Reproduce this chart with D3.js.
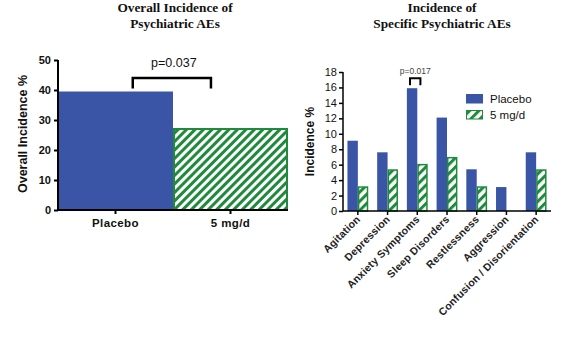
<!DOCTYPE html>
<html><head><meta charset="utf-8">
<script src="https://cdn.jsdelivr.net/npm/d3@7"></script>
<style>body{margin:0;background:#fff;} svg{display:block;}</style>
</head><body>
<svg id="c" width="568" height="337"></svg>
<script>
// ---- data ----
const overallGroups = ["Placebo", "5 mg/d"];
const overallValues = [39.5, 27.0];
const overallTicks = [0, 10, 20, 30, 40, 50];

const aeCategories = ["Agitation", "Depression", "Anxiety Symptoms", "Sleep Disorders", "Restlessness", "Aggression", "Confusion / Disorientation"];
const placeboValues = [9.1, 7.6, 15.9, 12.1, 5.4, 3.1, 7.6];
const doseValues = [3.2, 5.4, 6.1, 7.0, 3.2, 0, 5.4];
const aeTicks = [0, 2, 4, 6, 8, 10, 12, 14, 16, 18];
const seriesNames = ["Placebo", "5 mg/d"];

const BLUE = "#3a55a6", GREEN = "#1f8a3c";
const svg = d3.select("#c");
const defs = svg.append("defs");
function hatch(id, size, sw) {
  const p = defs.append("pattern").attr("id", id).attr("patternUnits", "userSpaceOnUse")
    .attr("width", size).attr("height", size).attr("patternTransform", "rotate(45)");
  p.append("rect").attr("width", size).attr("height", size).attr("fill", "#fff");
  p.append("rect").attr("width", sw).attr("height", size).attr("fill", GREEN);
}
hatch("h1", 6, 3);
hatch("h2", 6.5, 3);

const serif = "'Liberation Serif','Times New Roman',serif";
const sans = "'Liberation Sans',Arial,sans-serif";

// ---- left chart ----
{
  const x0 = 58, x1 = 288, yb = 210, yt = 60;
  const x = d3.scaleBand().domain(overallGroups).range([x0, x1]).padding(0);
  const y = d3.scaleLinear().domain([0, 50]).range([yb, yt]);
  const g = svg.append("g");
  g.selectAll("rect.bar").data(overallValues).join("rect")
    .attr("x", (d, i) => x(overallGroups[i]) + (i ? 1 : 0))
    .attr("y", d => y(d)).attr("width", (d, i) => x.bandwidth() - (i ? 2 : 0))
    .attr("height", d => yb - y(d))
    .attr("fill", (d, i) => i ? "url(#h1)" : BLUE)
    .attr("stroke", (d, i) => i ? GREEN : "none").attr("stroke-width", 2);
  const ya = g.append("g").attr("transform", `translate(${x0},0)`)
    .call(d3.axisLeft(y).tickValues(overallTicks).tickSize(4).tickPadding(3));
  const xa = g.append("g").attr("transform", `translate(0,${yb})`)
    .call(d3.axisBottom(x).tickSize(4).tickPadding(5));
  [ya, xa].forEach(a => {
    a.select(".domain").attr("stroke", "#000").attr("stroke-width", 2);
    a.selectAll(".tick line").attr("stroke", "#000").attr("stroke-width", 2);
    a.selectAll("text").attr("font-family", sans).attr("font-weight", "bold").attr("font-size", 11).attr("fill", "#111");
  });
  xa.selectAll("text").attr("font-size", 11.5).attr("letter-spacing", 0.4);
  ya.select(".domain").attr("d", `M0,${yb}V${yt}`);
  xa.select(".domain").attr("d", `M${x0},0H${x1}`);
  g.append("text").attr("transform", `translate(27,${(yb + yt) / 2 - 1}) rotate(-90)`)
    .attr("text-anchor", "middle").attr("font-family", sans).attr("font-weight", "bold")
    .attr("font-size", 12.5).attr("fill", "#111").text("Overall Incidence %");
  // bracket
  const bxa = x("Placebo") + x.bandwidth() * 0.65, bxb = x("5 mg/d") + x.bandwidth() * 0.33;
  g.append("path").attr("d", `M${bxa},${y(39.5) - 3}V${y(44)}H${bxb}V${y(39.5) - 3}`)
    .attr("fill", "none").attr("stroke", "#000").attr("stroke-width", 2.5);
  g.append("text").attr("x", (bxa + bxb) / 2 + 2).attr("y", 67).attr("text-anchor", "middle")
    .attr("font-family", sans).attr("font-size", 12.5).attr("fill", "#111").text("p=0.037");
  g.append("text").attr("x", 175).attr("y", 12).attr("text-anchor", "middle").attr("font-family", serif)
    .attr("font-weight", "bold").attr("font-size", 13.3).attr("fill", "#111").text("Overall Incidence of");
  g.append("text").attr("x", 175).attr("y", 28).attr("text-anchor", "middle").attr("font-family", serif)
    .attr("font-weight", "bold").attr("font-size", 13.3).attr("fill", "#111").text("Psychiatric AEs");
}

// ---- right chart ----
{
  const x0 = 343, x1 = 551, yb = 211, yt = 72;
  const x = d3.scaleBand().domain(aeCategories).range([x0, x1]).paddingInner(0.3).paddingOuter(0.15);
  const xs = d3.scaleBand().domain(seriesNames).range([0, x.bandwidth()]);
  const y = d3.scaleLinear().domain([0, 18]).range([yb, yt]);
  const g = svg.append("g");
  const grp = g.selectAll("g.grp").data(aeCategories).join("g").attr("transform", d => `translate(${x(d)},0)`);
  grp.append("rect").attr("x", xs("Placebo")).attr("width", xs.bandwidth())
    .attr("y", (d, i) => y(placeboValues[i])).attr("height", (d, i) => yb - y(placeboValues[i])).attr("fill", BLUE);
  grp.filter((d, i) => doseValues[i] > 0).append("rect").attr("x", xs("5 mg/d") + 0.75).attr("width", xs.bandwidth() - 1.5)
    .attr("y", d => y(doseValues[aeCategories.indexOf(d)]) + 0.75)
    .attr("height", d => yb - y(doseValues[aeCategories.indexOf(d)]) - 0.75)
    .attr("fill", "url(#h2)").attr("stroke", GREEN).attr("stroke-width", 1.5);
  const ya = g.append("g").attr("transform", `translate(${x0},0)`)
    .call(d3.axisLeft(y).tickValues(aeTicks).tickSize(4).tickPadding(2));
  const xa = g.append("g").attr("transform", `translate(0,${yb})`)
    .call(d3.axisBottom(x).tickSize(4).tickFormat(""));
  [ya, xa].forEach(a => {
    a.select(".domain").attr("stroke", "#000").attr("stroke-width", 1.5);
    a.selectAll(".tick line").attr("stroke", "#000").attr("stroke-width", 1.5);
  });
  ya.select(".domain").attr("d", `M0,${yb}V${yt}`);
  xa.select(".domain").attr("d", `M${x0},0H${x1}`);
  ya.selectAll("text").attr("font-family", sans).attr("font-size", 11).attr("fill", "#111");
  xa.selectAll(".tick").append("text")
    .attr("transform", "translate(3,9) rotate(-45)").attr("text-anchor", "end")
    .attr("font-family", sans).attr("font-weight", "bold").attr("font-size", 10.5).attr("fill", "#222")
    .attr("letter-spacing", 0.2)
    .text(d => d);
  g.append("text").attr("transform", `translate(314,${(yb + yt) / 2}) rotate(-90)`)
    .attr("text-anchor", "middle").attr("font-family", sans).attr("font-weight", "bold")
    .attr("font-size", 12).attr("fill", "#111").text("Incidence %");
  // bracket
  const c = x("Anxiety Symptoms");
  const ba = c + xs("Placebo") + xs.bandwidth() * 0.3, bb = c + xs("5 mg/d") + xs.bandwidth() * 0.3;
  g.append("path").attr("d", `M${ba},${y(15.9) - 3}V${y(17.2)}H${bb}V${y(15.9) - 3}`)
    .attr("fill", "none").attr("stroke", "#000").attr("stroke-width", 2);
  g.append("text").attr("x", (ba + bb) / 2).attr("y", 74).attr("text-anchor", "middle")
    .attr("font-family", sans).attr("font-size", 8.5).attr("fill", "#444").text("p=0.017");
  // legend
  const lg = g.append("g").attr("transform", "translate(466,94)");
  seriesNames.forEach((s, i) => {
    lg.append("rect").attr("x", 0.5).attr("y", i * 16 + 0.5).attr("width", 16).attr("height", 8.5)
      .attr("fill", i ? "url(#h2)" : BLUE).attr("stroke", i ? GREEN : BLUE).attr("stroke-width", 1);
    lg.append("text").attr("x", 24).attr("y", i * 16 + 9).attr("font-family", sans)
      .attr("font-size", 11.5).attr("fill", "#111").text(s);
  });
  g.append("text").attr("x", 442).attr("y", 12).attr("text-anchor", "middle").attr("font-family", serif)
    .attr("font-weight", "bold").attr("font-size", 13.3).attr("fill", "#111").text("Incidence of");
  g.append("text").attr("x", 442).attr("y", 28).attr("text-anchor", "middle").attr("font-family", serif)
    .attr("font-weight", "bold").attr("font-size", 13.3).attr("fill", "#111").text("Specific Psychiatric AEs");
}
</script>
</body></html>
